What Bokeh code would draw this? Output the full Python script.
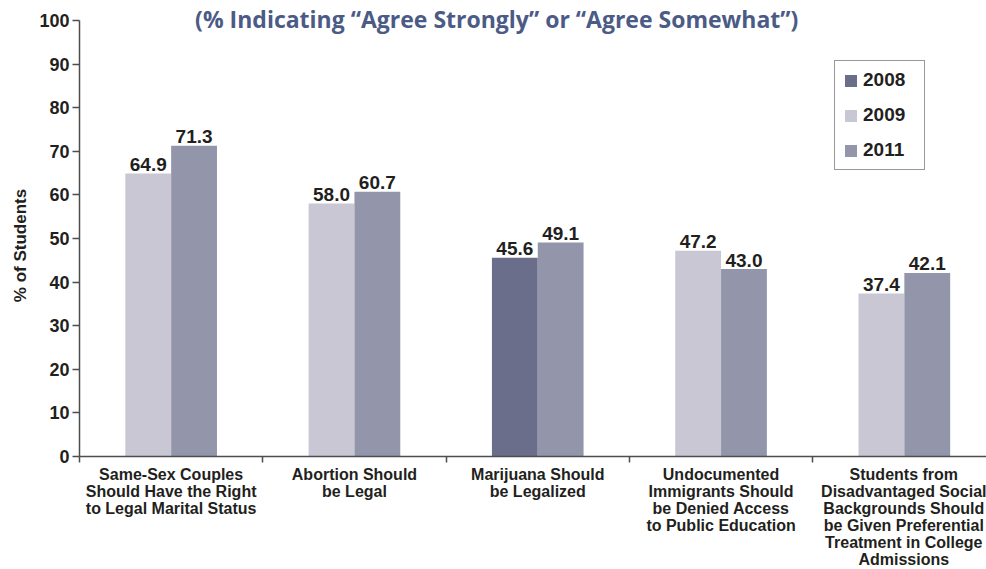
import math
from bokeh.plotting import figure
from bokeh.models import Range1d, FixedTicker, ColumnDataSource, Legend, LegendItem, Label
from bokeh.embed import file_html
from bokeh.resources import INLINE
from bokeh.core.properties import value

# ---- data ----
categories = [
    "Same-Sex Couples\nShould Have the Right\nto Legal Marital Status",
    "Abortion Should\nbe Legal",
    "Marijuana Should\nbe Legalized",
    "Undocumented\nImmigrants Should\nbe Denied Access\nto Public Education",
    "Students from\nDisadvantaged Social\nBackgrounds Should\nbe Given Preferential\nTreatment in College\nAdmissions",
]
years = ["2008", "2009", "2011"]
v2008 = [None, None, 45.6, None, None]
v2009 = [64.9, 58.0, None, 47.2, 37.4]
v2011 = [71.3, 60.7, 49.1, 43.0, 42.1]
y_ticks = [0, 10, 20, 30, 40, 50, 60, 70, 80, 90, 100]
title_text = "(% Indicating \u201cAgree Strongly\u201d or \u201cAgree Somewhat\u201d)"
y_label = "% of Students"

colors = {"2008": "#6a6e8b", "2009": "#c8c7d3", "2011": "#9396aa"}
TEXT = "#231f20"
AXIS = "#4d4d4d"
FONT = "Liberation Sans"

n = len(categories)
bar_w = 0.25

# layout: plot area spans the whole canvas; axes are pinned at value 0
W, H = 986, 569
PX_Y = 4.36      # px per percentage point (0 at 456px, 100 at 20px)
PX_X = 183.3     # px per category (first group starts at 79px)
x_lo = -79 / PX_X
x_hi = (W - 79) / PX_X
y_lo = -(H - 456) / PX_Y
y_hi = 100 + 20 / PX_Y

p = figure(width=W, height=H, x_range=Range1d(x_lo, x_hi), y_range=Range1d(y_lo, y_hi),
           output_backend="svg", toolbar_location=None,
           min_border_left=0, min_border_right=0, min_border_top=0, min_border_bottom=0)
p.outline_line_color = None
p.xgrid.visible = False
p.ygrid.visible = False
p.background_fill_color = "white"
p.border_fill_color = "white"

# bar positions: left slot for 2008/2009, right slot for 2011
def build(vals, left):
    xs, tops, labels = [], [], []
    for i, v in enumerate(vals):
        if v is None:
            continue
        c = i + 0.5
        xs.append(c - bar_w / 2 if left else c + bar_w / 2)
        tops.append(v)
        labels.append(f"{v:.1f}")
    return ColumnDataSource(dict(x=xs, top=tops, label=labels))

srcs = {"2008": build(v2008, True), "2009": build(v2009, True), "2011": build(v2011, False)}
renderers = {}
for yr in years:
    s = srcs[yr]
    renderers[yr] = p.vbar(x="x", top="top", width=bar_w, bottom=0, source=s,
                           fill_color=colors[yr], line_color=None)
    p.text(x="x", y="top", text="label", source=s, text_align="center",
           text_baseline="alphabetic", y_offset=-9, text_font=value(FONT),
           text_font_style="bold", text_font_size="19px", text_color=TEXT)

# y axis pinned at x = 0
ya = p.yaxis[0]
ya.fixed_location = 0
ya.ticker = FixedTicker(ticks=y_ticks)
ya.bounds = (0, 100)
ya.axis_line_color = AXIS
ya.axis_line_width = 1.5
ya.major_tick_line_color = AXIS
ya.major_tick_line_width = 1.5
ya.major_tick_out = 7
ya.major_tick_in = 0
ya.minor_tick_line_color = None
ya.major_label_text_font = FONT
ya.major_label_text_font_style = "bold"
ya.major_label_text_font_size = "18px"
ya.major_label_text_color = TEXT
ya.major_label_standoff = 3

# y axis title
p.add_layout(Label(x=-(79 - 20) / PX_X, y=100 - (245 - 20) / PX_Y, text=y_label,
                   angle=math.pi / 2, text_align="center", text_baseline="middle",
                   text_font=FONT, text_font_style="bold", text_font_size="17px",
                   text_color=TEXT))

# x axis pinned at y = 0: small ticks at group boundaries, category labels at centres
xa = p.xaxis[0]
xa.fixed_location = 0
xa.bounds = (0, x_hi)
xa.ticker = FixedTicker(ticks=[i + 0.5 for i in range(n)],
                        minor_ticks=[float(i) for i in range(n + 1)])
xa.major_label_overrides = {i + 0.5: categories[i] for i in range(n)}
xa.axis_line_color = AXIS
xa.axis_line_width = 1.5
xa.major_tick_line_color = None
xa.major_tick_out = 0
xa.major_tick_in = 0
xa.minor_tick_line_color = AXIS
xa.minor_tick_line_width = 1.5
xa.minor_tick_out = 6
xa.minor_tick_in = 0
xa.major_label_text_font = FONT
xa.major_label_text_font_style = "bold"
xa.major_label_text_font_size = "16px"
xa.major_label_text_color = TEXT
xa.major_label_text_line_height = 1.0
xa.major_label_standoff = 3

# legend
legend = Legend(items=[LegendItem(label=yr, renderers=[renderers[yr]]) for yr in years],
                location=(834, 399), orientation="vertical",
                glyph_width=15, glyph_height=15, label_height=21, label_width=53,
                label_standoff=5, spacing=13, padding=8, margin=0,
                label_text_font=FONT, label_text_font_style="bold",
                label_text_font_size="19px", label_text_color=TEXT,
                border_line_color="#333333", border_line_width=1.5,
                background_fill_color="white", background_fill_alpha=1)
p.add_layout(legend, "center")

# title
p.add_layout(Label(x=2.276, y=100.4, text=title_text, text_align="center",
                   text_baseline="alphabetic", text_font="Open Sans", text_font_style="bold",
                   text_font_size="23px", text_color="#4b5b86"))

open("out.html", "w").write(file_html(p, INLINE))
